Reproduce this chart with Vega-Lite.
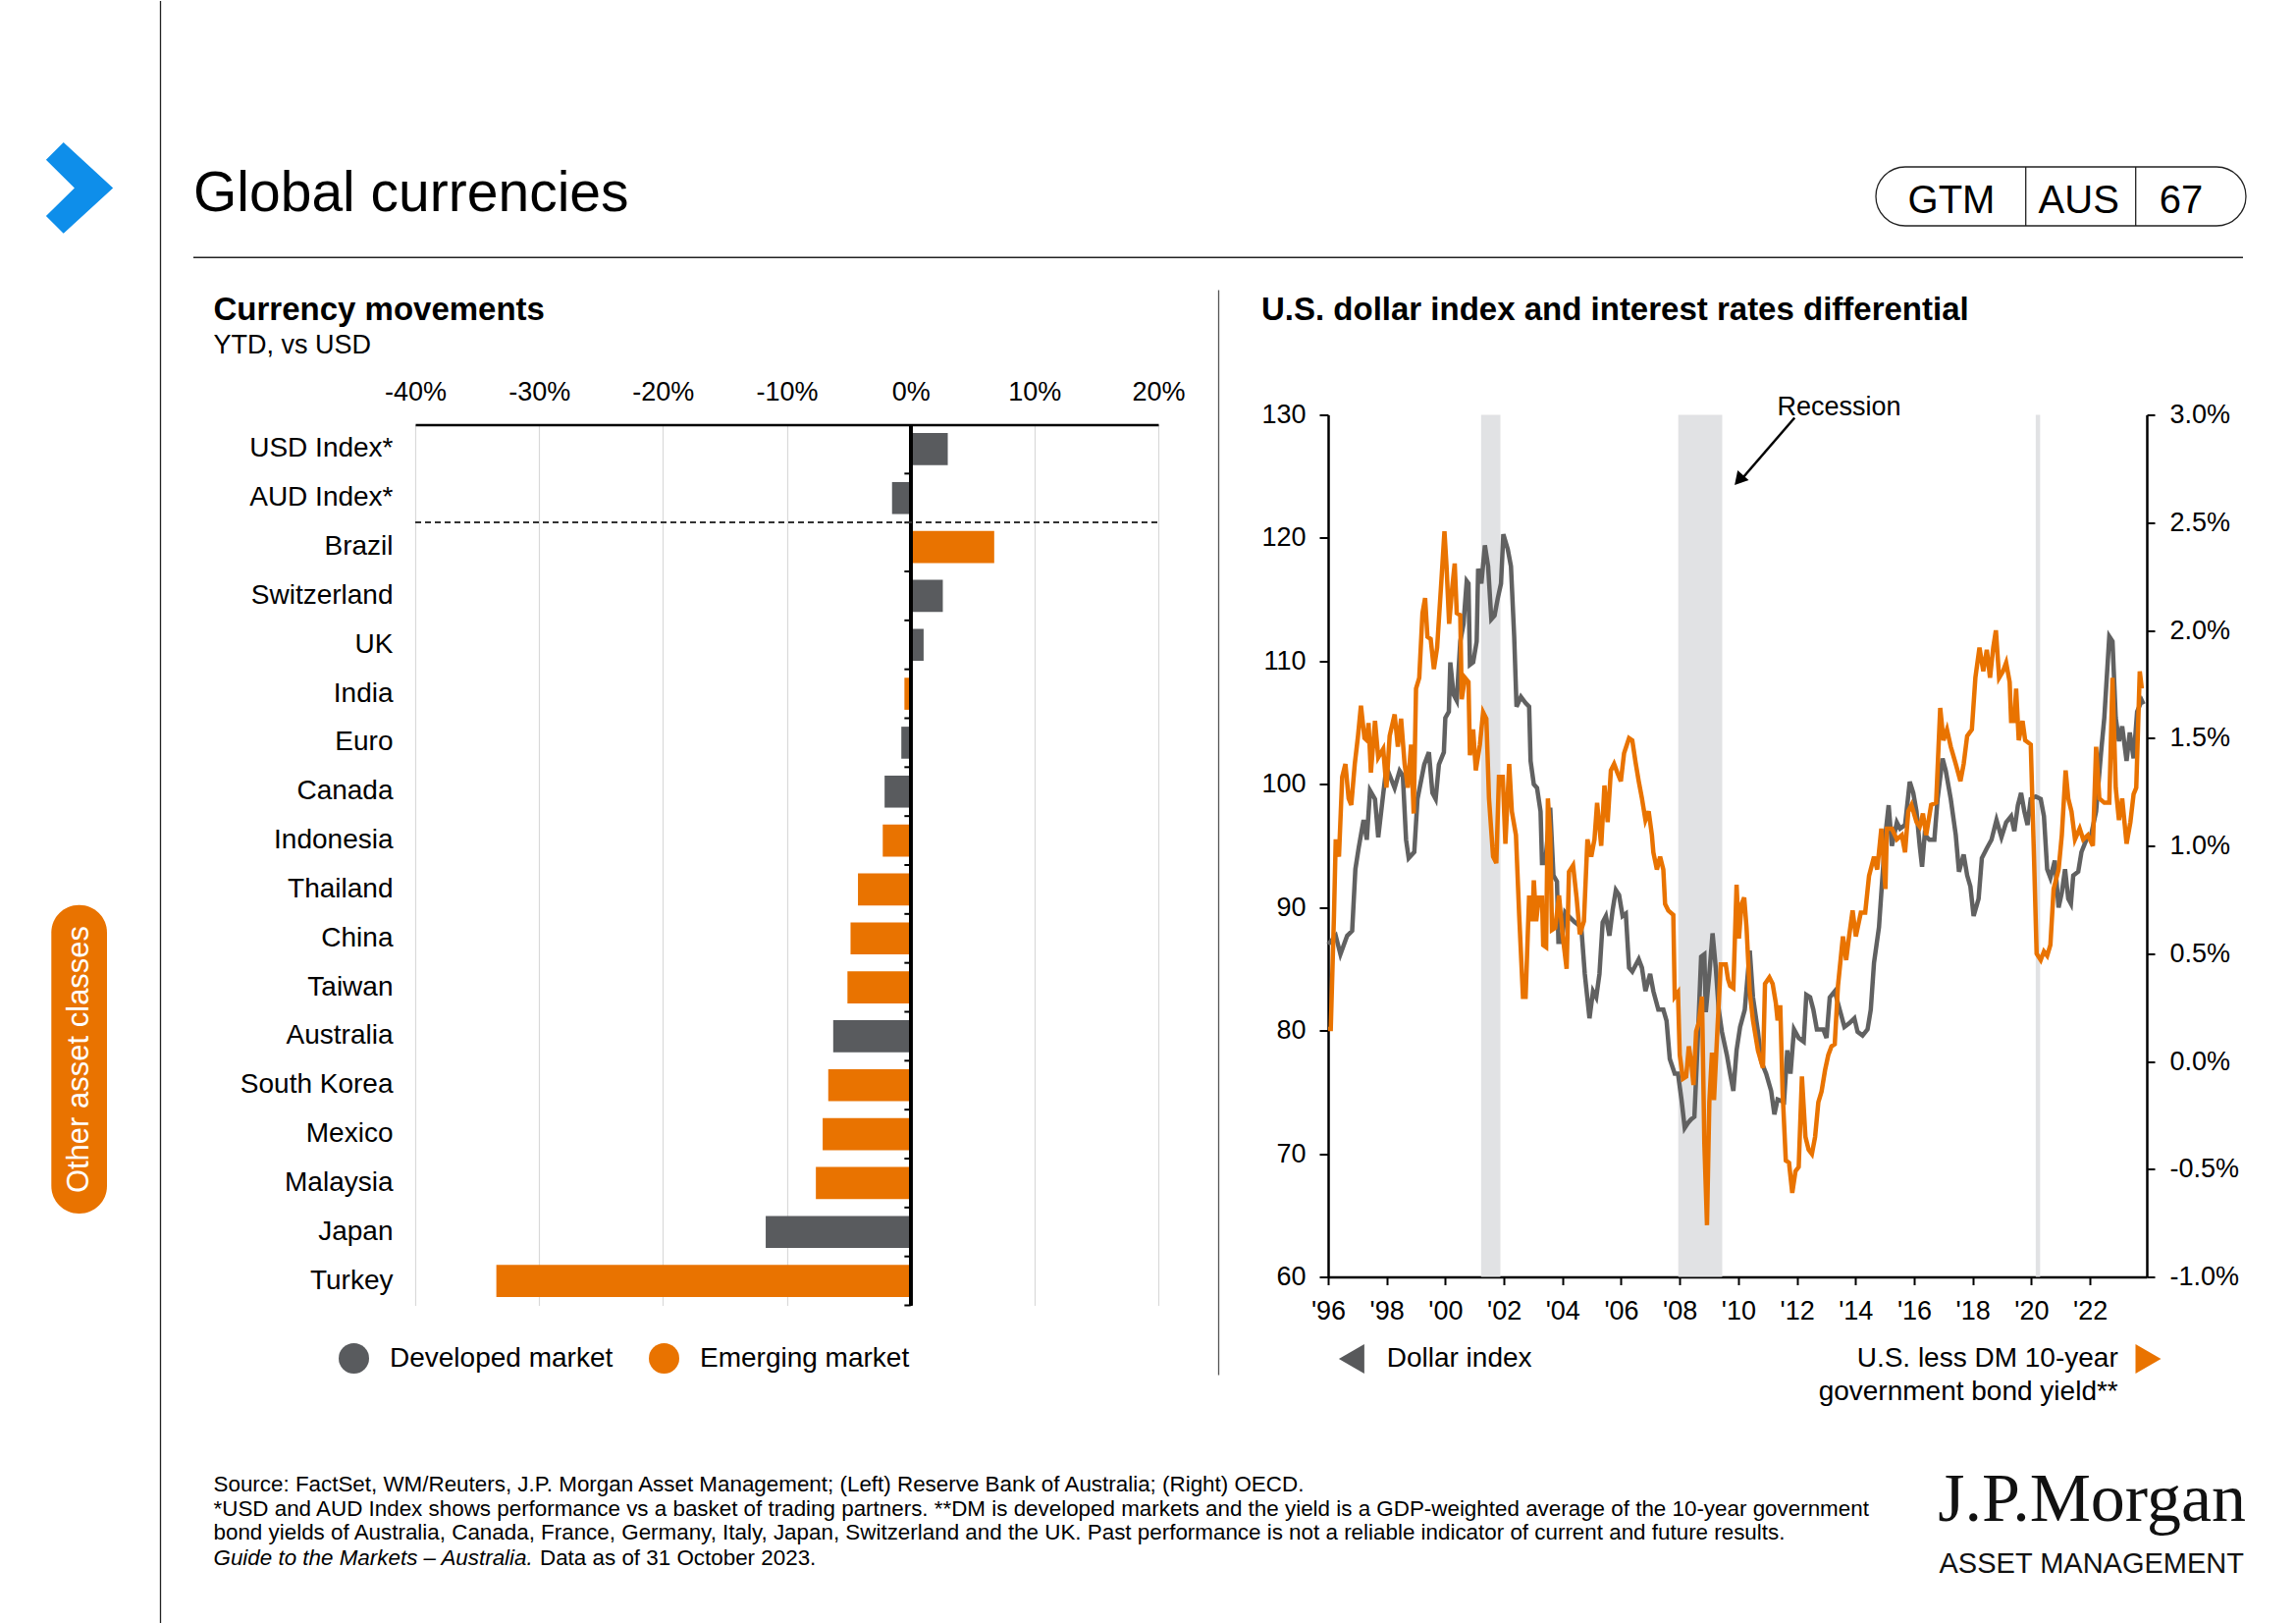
{
  "$schema": "https://vega.github.io/schema/vega-lite/v6.json",
  "background": "white",
  "padding": 0,
  "autosize": {"type": "pad"},
  "config": {
    "font": "Liberation Sans",
    "view": {"stroke": null},
    "axis": {"labelColor": "#000", "labelFont": "Liberation Sans"},
    "legend": {"labelColor": "#000", "labelFont": "Liberation Sans"},
    "title": {"color": "#000", "subtitleColor": "#000", "font": "Liberation Sans", "subtitleFont": "Liberation Sans"}
  },
  "datasets": {
    "one": [{}],
    "bars": [
      {"country": "USD Index*", "value": 3.0, "market": "Developed market"},
      {"country": "AUD Index*", "value": -1.5, "market": "Developed market"},
      {"country": "Brazil", "value": 6.75, "market": "Emerging market"},
      {"country": "Switzerland", "value": 2.6, "market": "Developed market"},
      {"country": "UK", "value": 1.05, "market": "Developed market"},
      {"country": "India", "value": -0.5, "market": "Emerging market"},
      {"country": "Euro", "value": -0.75, "market": "Developed market"},
      {"country": "Canada", "value": -2.1, "market": "Developed market"},
      {"country": "Indonesia", "value": -2.25, "market": "Emerging market"},
      {"country": "Thailand", "value": -4.25, "market": "Emerging market"},
      {"country": "China", "value": -4.85, "market": "Emerging market"},
      {"country": "Taiwan", "value": -5.1, "market": "Emerging market"},
      {"country": "Australia", "value": -6.25, "market": "Developed market"},
      {"country": "South Korea", "value": -6.65, "market": "Emerging market"},
      {"country": "Mexico", "value": -7.1, "market": "Emerging market"},
      {"country": "Malaysia", "value": -7.65, "market": "Emerging market"},
      {"country": "Japan", "value": -11.7, "market": "Developed market"},
      {"country": "Turkey", "value": -33.45, "market": "Emerging market"}
    ],
    "recessions": [
      {"start": 2001.22, "end": 2001.88},
      {"start": 2007.95, "end": 2009.45},
      {"start": 2020.15, "end": 2020.3}
    ],
    "dxy": [
      {"t": 1996.00, "v": 87.0}, {"t": 1996.26, "v": 87.7}, {"t": 1996.42, "v": 86.2}, {"t": 1996.65, "v": 87.7},
      {"t": 1996.82, "v": 88.1}, {"t": 1996.93, "v": 93.1}, {"t": 1997.04, "v": 94.8}, {"t": 1997.21, "v": 97.1},
      {"t": 1997.32, "v": 95.5}, {"t": 1997.43, "v": 99.5}, {"t": 1997.60, "v": 98.8}, {"t": 1997.71, "v": 95.7},
      {"t": 1997.88, "v": 99.2}, {"t": 1997.99, "v": 101.4}, {"t": 1998.27, "v": 99.7}, {"t": 1998.44, "v": 101.1},
      {"t": 1998.55, "v": 100.7}, {"t": 1998.66, "v": 95.5}, {"t": 1998.75, "v": 94.0}, {"t": 1998.94, "v": 94.5},
      {"t": 1999.05, "v": 98.8}, {"t": 1999.28, "v": 101.6}, {"t": 1999.44, "v": 102.6}, {"t": 1999.56, "v": 99.3},
      {"t": 1999.67, "v": 98.8}, {"t": 1999.78, "v": 101.6}, {"t": 1999.95, "v": 102.6}, {"t": 2000.00, "v": 105.4},
      {"t": 2000.12, "v": 105.9}, {"t": 2000.17, "v": 109.9}, {"t": 2000.28, "v": 107.3}, {"t": 2000.39, "v": 106.8},
      {"t": 2000.51, "v": 111.6}, {"t": 2000.62, "v": 113.0}, {"t": 2000.73, "v": 116.5}, {"t": 2000.79, "v": 116.3},
      {"t": 2000.84, "v": 109.7}, {"t": 2000.95, "v": 109.9}, {"t": 2001.07, "v": 111.6}, {"t": 2001.12, "v": 117.5},
      {"t": 2001.23, "v": 116.3}, {"t": 2001.35, "v": 119.4}, {"t": 2001.46, "v": 117.7}, {"t": 2001.57, "v": 113.4},
      {"t": 2001.68, "v": 113.7}, {"t": 2001.79, "v": 115.1}, {"t": 2001.90, "v": 116.3}, {"t": 2001.98, "v": 120.3},
      {"t": 2002.13, "v": 119.1}, {"t": 2002.24, "v": 117.7}, {"t": 2002.35, "v": 112.0}, {"t": 2002.43, "v": 106.3},
      {"t": 2002.58, "v": 107.1}, {"t": 2002.74, "v": 106.6}, {"t": 2002.86, "v": 106.3}, {"t": 2002.91, "v": 101.9},
      {"t": 2003.02, "v": 100.0}, {"t": 2003.13, "v": 99.7}, {"t": 2003.25, "v": 97.8}, {"t": 2003.30, "v": 93.6},
      {"t": 2003.41, "v": 93.6}, {"t": 2003.58, "v": 98.1}, {"t": 2003.69, "v": 92.6}, {"t": 2003.81, "v": 92.1},
      {"t": 2003.86, "v": 87.2}, {"t": 2003.97, "v": 87.2}, {"t": 2004.09, "v": 89.6}, {"t": 2004.20, "v": 89.3},
      {"t": 2004.42, "v": 88.8}, {"t": 2004.64, "v": 88.4}, {"t": 2004.76, "v": 84.6}, {"t": 2004.92, "v": 81.0},
      {"t": 2005.04, "v": 83.2}, {"t": 2005.15, "v": 82.7}, {"t": 2005.26, "v": 84.6}, {"t": 2005.37, "v": 88.8},
      {"t": 2005.48, "v": 89.3}, {"t": 2005.60, "v": 87.7}, {"t": 2005.71, "v": 89.8}, {"t": 2005.82, "v": 91.4},
      {"t": 2005.93, "v": 91.0}, {"t": 2006.05, "v": 89.3}, {"t": 2006.16, "v": 89.5}, {"t": 2006.27, "v": 85.1},
      {"t": 2006.38, "v": 84.8}, {"t": 2006.60, "v": 85.8}, {"t": 2006.71, "v": 85.1}, {"t": 2006.83, "v": 83.2},
      {"t": 2006.99, "v": 84.6}, {"t": 2007.10, "v": 83.2}, {"t": 2007.27, "v": 81.7}, {"t": 2007.44, "v": 81.7},
      {"t": 2007.55, "v": 80.8}, {"t": 2007.66, "v": 77.7}, {"t": 2007.83, "v": 76.5}, {"t": 2007.94, "v": 76.5},
      {"t": 2008.06, "v": 74.4}, {"t": 2008.17, "v": 72.1}, {"t": 2008.28, "v": 72.5}, {"t": 2008.39, "v": 72.8},
      {"t": 2008.50, "v": 73.0}, {"t": 2008.61, "v": 78.9}, {"t": 2008.73, "v": 86.0}, {"t": 2008.84, "v": 86.2},
      {"t": 2008.89, "v": 81.5}, {"t": 2009.01, "v": 84.6}, {"t": 2009.12, "v": 87.9}, {"t": 2009.23, "v": 85.1},
      {"t": 2009.33, "v": 81.7}, {"t": 2009.44, "v": 79.9}, {"t": 2009.61, "v": 78.0}, {"t": 2009.72, "v": 76.5},
      {"t": 2009.83, "v": 75.1}, {"t": 2009.94, "v": 78.4}, {"t": 2010.06, "v": 80.3}, {"t": 2010.22, "v": 81.7},
      {"t": 2010.39, "v": 86.5}, {"t": 2010.50, "v": 82.7}, {"t": 2010.67, "v": 79.9}, {"t": 2010.78, "v": 77.5},
      {"t": 2010.95, "v": 76.5}, {"t": 2011.12, "v": 75.1}, {"t": 2011.23, "v": 73.2}, {"t": 2011.34, "v": 74.4},
      {"t": 2011.56, "v": 74.2}, {"t": 2011.67, "v": 78.4}, {"t": 2011.78, "v": 76.5}, {"t": 2011.90, "v": 80.1},
      {"t": 2012.06, "v": 79.4}, {"t": 2012.23, "v": 79.1}, {"t": 2012.32, "v": 82.9}, {"t": 2012.45, "v": 82.7},
      {"t": 2012.56, "v": 81.7}, {"t": 2012.68, "v": 80.1}, {"t": 2012.90, "v": 80.1}, {"t": 2013.01, "v": 79.4},
      {"t": 2013.12, "v": 82.7}, {"t": 2013.29, "v": 83.2}, {"t": 2013.46, "v": 81.7}, {"t": 2013.62, "v": 80.3},
      {"t": 2013.79, "v": 80.6}, {"t": 2013.96, "v": 81.0}, {"t": 2014.07, "v": 79.9}, {"t": 2014.24, "v": 79.6},
      {"t": 2014.41, "v": 80.1}, {"t": 2014.52, "v": 81.7}, {"t": 2014.63, "v": 85.5}, {"t": 2014.80, "v": 88.4},
      {"t": 2014.91, "v": 92.2}, {"t": 2015.02, "v": 95.9}, {"t": 2015.13, "v": 98.3}, {"t": 2015.24, "v": 95.0},
      {"t": 2015.41, "v": 96.9}, {"t": 2015.52, "v": 96.4}, {"t": 2015.69, "v": 96.7}, {"t": 2015.85, "v": 100.2},
      {"t": 2015.97, "v": 99.3}, {"t": 2016.08, "v": 97.8}, {"t": 2016.19, "v": 95.0}, {"t": 2016.27, "v": 93.3},
      {"t": 2016.36, "v": 95.9}, {"t": 2016.52, "v": 95.5}, {"t": 2016.69, "v": 95.5}, {"t": 2016.80, "v": 98.8},
      {"t": 2016.97, "v": 102.1}, {"t": 2017.08, "v": 101.1}, {"t": 2017.25, "v": 98.8}, {"t": 2017.42, "v": 95.9},
      {"t": 2017.53, "v": 92.9}, {"t": 2017.69, "v": 94.3}, {"t": 2017.81, "v": 92.6}, {"t": 2017.92, "v": 91.7},
      {"t": 2018.03, "v": 89.3}, {"t": 2018.20, "v": 90.7}, {"t": 2018.31, "v": 94.0}, {"t": 2018.48, "v": 94.8},
      {"t": 2018.64, "v": 95.5}, {"t": 2018.81, "v": 97.1}, {"t": 2018.98, "v": 95.7}, {"t": 2019.14, "v": 96.9},
      {"t": 2019.31, "v": 97.4}, {"t": 2019.42, "v": 96.2}, {"t": 2019.54, "v": 98.3}, {"t": 2019.65, "v": 99.3},
      {"t": 2019.76, "v": 97.8}, {"t": 2019.87, "v": 96.7}, {"t": 2019.98, "v": 98.8}, {"t": 2020.15, "v": 99.0},
      {"t": 2020.32, "v": 98.8}, {"t": 2020.43, "v": 97.4}, {"t": 2020.54, "v": 93.1}, {"t": 2020.65, "v": 92.4},
      {"t": 2020.80, "v": 93.8}, {"t": 2020.93, "v": 90.0}, {"t": 2021.04, "v": 91.2}, {"t": 2021.15, "v": 93.1},
      {"t": 2021.26, "v": 90.7}, {"t": 2021.35, "v": 90.3}, {"t": 2021.43, "v": 92.6}, {"t": 2021.60, "v": 92.9},
      {"t": 2021.71, "v": 94.5}, {"t": 2021.88, "v": 95.5}, {"t": 2022.04, "v": 95.9}, {"t": 2022.21, "v": 97.8},
      {"t": 2022.38, "v": 102.6}, {"t": 2022.49, "v": 105.4}, {"t": 2022.66, "v": 112.0}, {"t": 2022.77, "v": 111.6},
      {"t": 2022.88, "v": 105.4}, {"t": 2022.99, "v": 103.5}, {"t": 2023.10, "v": 104.7}, {"t": 2023.25, "v": 101.9},
      {"t": 2023.36, "v": 104.2}, {"t": 2023.49, "v": 102.1}, {"t": 2023.61, "v": 105.9}, {"t": 2023.77, "v": 106.8},
      {"t": 2023.83, "v": 106.5}
    ],
    "spread": [
      {"t": 1996.00, "s": 0.15}, {"t": 1996.09, "s": 0.15}, {"t": 1996.20, "s": 0.68}, {"t": 1996.26, "s": 1.03},
      {"t": 1996.37, "s": 0.95}, {"t": 1996.48, "s": 1.32}, {"t": 1996.59, "s": 1.38}, {"t": 1996.70, "s": 1.22},
      {"t": 1996.79, "s": 1.19}, {"t": 1996.91, "s": 1.38}, {"t": 1997.02, "s": 1.51}, {"t": 1997.12, "s": 1.65},
      {"t": 1997.24, "s": 1.50}, {"t": 1997.32, "s": 1.49}, {"t": 1997.38, "s": 1.57}, {"t": 1997.46, "s": 1.34},
      {"t": 1997.60, "s": 1.58}, {"t": 1997.71, "s": 1.41}, {"t": 1997.88, "s": 1.45}, {"t": 1997.99, "s": 1.27},
      {"t": 1998.10, "s": 1.51}, {"t": 1998.27, "s": 1.61}, {"t": 1998.38, "s": 1.46}, {"t": 1998.49, "s": 1.59},
      {"t": 1998.61, "s": 1.38}, {"t": 1998.72, "s": 1.27}, {"t": 1998.83, "s": 1.47}, {"t": 1998.92, "s": 1.15},
      {"t": 1999.00, "s": 1.73}, {"t": 1999.11, "s": 1.78}, {"t": 1999.22, "s": 2.08}, {"t": 1999.31, "s": 2.15},
      {"t": 1999.39, "s": 1.97}, {"t": 1999.50, "s": 1.96}, {"t": 1999.61, "s": 1.82}, {"t": 1999.72, "s": 1.92},
      {"t": 1999.87, "s": 2.24}, {"t": 1999.97, "s": 2.46}, {"t": 2000.04, "s": 2.30}, {"t": 2000.13, "s": 2.03},
      {"t": 2000.23, "s": 2.19}, {"t": 2000.32, "s": 2.31}, {"t": 2000.39, "s": 2.08}, {"t": 2000.51, "s": 2.07},
      {"t": 2000.56, "s": 1.68}, {"t": 2000.67, "s": 1.78}, {"t": 2000.79, "s": 1.76}, {"t": 2000.84, "s": 1.42},
      {"t": 2000.95, "s": 1.54}, {"t": 2001.04, "s": 1.35}, {"t": 2001.18, "s": 1.47}, {"t": 2001.29, "s": 1.62},
      {"t": 2001.40, "s": 1.59}, {"t": 2001.49, "s": 1.22}, {"t": 2001.63, "s": 0.95}, {"t": 2001.74, "s": 0.92},
      {"t": 2001.83, "s": 1.32}, {"t": 2001.96, "s": 1.32}, {"t": 2002.05, "s": 1.01}, {"t": 2002.18, "s": 1.38},
      {"t": 2002.27, "s": 1.16}, {"t": 2002.41, "s": 1.05}, {"t": 2002.52, "s": 0.68}, {"t": 2002.65, "s": 0.30},
      {"t": 2002.74, "s": 0.30}, {"t": 2002.86, "s": 0.77}, {"t": 2002.97, "s": 0.65}, {"t": 2003.02, "s": 0.84},
      {"t": 2003.10, "s": 0.65}, {"t": 2003.19, "s": 0.76}, {"t": 2003.30, "s": 0.76}, {"t": 2003.34, "s": 0.54},
      {"t": 2003.44, "s": 0.53}, {"t": 2003.50, "s": 1.22}, {"t": 2003.58, "s": 1.05}, {"t": 2003.64, "s": 0.61},
      {"t": 2003.75, "s": 0.62}, {"t": 2003.88, "s": 0.77}, {"t": 2004.00, "s": 0.59}, {"t": 2004.14, "s": 0.43},
      {"t": 2004.22, "s": 0.88}, {"t": 2004.36, "s": 0.91}, {"t": 2004.48, "s": 0.76}, {"t": 2004.59, "s": 0.59},
      {"t": 2004.73, "s": 0.65}, {"t": 2004.85, "s": 1.03}, {"t": 2004.98, "s": 0.95}, {"t": 2005.09, "s": 1.03},
      {"t": 2005.18, "s": 1.20}, {"t": 2005.32, "s": 1.00}, {"t": 2005.43, "s": 1.28}, {"t": 2005.54, "s": 1.11},
      {"t": 2005.65, "s": 1.35}, {"t": 2005.76, "s": 1.38}, {"t": 2005.87, "s": 1.34}, {"t": 2005.99, "s": 1.30},
      {"t": 2006.10, "s": 1.43}, {"t": 2006.27, "s": 1.50}, {"t": 2006.38, "s": 1.49}, {"t": 2006.49, "s": 1.39},
      {"t": 2006.60, "s": 1.30}, {"t": 2006.71, "s": 1.22}, {"t": 2006.83, "s": 1.12}, {"t": 2006.94, "s": 1.16},
      {"t": 2007.05, "s": 1.05}, {"t": 2007.10, "s": 0.97}, {"t": 2007.22, "s": 0.89}, {"t": 2007.33, "s": 0.95},
      {"t": 2007.44, "s": 0.89}, {"t": 2007.50, "s": 0.73}, {"t": 2007.61, "s": 0.70}, {"t": 2007.78, "s": 0.68},
      {"t": 2007.83, "s": 0.30}, {"t": 2007.94, "s": 0.32}, {"t": 2008.00, "s": 0.03}, {"t": 2008.11, "s": -0.08},
      {"t": 2008.22, "s": -0.07}, {"t": 2008.31, "s": 0.07}, {"t": 2008.39, "s": 0.00}, {"t": 2008.47, "s": -0.11},
      {"t": 2008.56, "s": 0.14}, {"t": 2008.65, "s": 0.18}, {"t": 2008.76, "s": 0.30}, {"t": 2008.84, "s": -0.38},
      {"t": 2008.93, "s": -0.76}, {"t": 2009.01, "s": -0.19}, {"t": 2009.10, "s": 0.04}, {"t": 2009.17, "s": -0.18},
      {"t": 2009.29, "s": 0.16}, {"t": 2009.40, "s": 0.45}, {"t": 2009.57, "s": 0.45}, {"t": 2009.65, "s": 0.38},
      {"t": 2009.72, "s": 0.35}, {"t": 2009.83, "s": 0.34}, {"t": 2009.94, "s": 0.82}, {"t": 2010.02, "s": 0.57},
      {"t": 2010.11, "s": 0.73}, {"t": 2010.20, "s": 0.76}, {"t": 2010.28, "s": 0.62}, {"t": 2010.39, "s": 0.32},
      {"t": 2010.50, "s": 0.19}, {"t": 2010.67, "s": 0.05}, {"t": 2010.84, "s": -0.03}, {"t": 2010.91, "s": 0.36},
      {"t": 2011.06, "s": 0.39}, {"t": 2011.17, "s": 0.36}, {"t": 2011.28, "s": 0.27}, {"t": 2011.34, "s": 0.19},
      {"t": 2011.43, "s": 0.26}, {"t": 2011.51, "s": -0.14}, {"t": 2011.62, "s": -0.46}, {"t": 2011.73, "s": -0.47},
      {"t": 2011.84, "s": -0.61}, {"t": 2011.95, "s": -0.51}, {"t": 2012.06, "s": -0.49}, {"t": 2012.17, "s": -0.07},
      {"t": 2012.29, "s": -0.35}, {"t": 2012.40, "s": -0.41}, {"t": 2012.51, "s": -0.43}, {"t": 2012.62, "s": -0.35},
      {"t": 2012.73, "s": -0.19}, {"t": 2012.84, "s": -0.14}, {"t": 2012.96, "s": -0.04}, {"t": 2013.07, "s": 0.03},
      {"t": 2013.18, "s": 0.07}, {"t": 2013.29, "s": 0.08}, {"t": 2013.40, "s": 0.35}, {"t": 2013.57, "s": 0.58},
      {"t": 2013.68, "s": 0.47}, {"t": 2013.77, "s": 0.57}, {"t": 2013.90, "s": 0.70}, {"t": 2014.01, "s": 0.58},
      {"t": 2014.18, "s": 0.69}, {"t": 2014.33, "s": 0.69}, {"t": 2014.46, "s": 0.86}, {"t": 2014.63, "s": 0.95},
      {"t": 2014.74, "s": 0.89}, {"t": 2014.88, "s": 1.08}, {"t": 2015.02, "s": 0.80}, {"t": 2015.07, "s": 1.08},
      {"t": 2015.24, "s": 1.08}, {"t": 2015.41, "s": 1.03}, {"t": 2015.58, "s": 1.05}, {"t": 2015.69, "s": 0.97},
      {"t": 2015.80, "s": 1.16}, {"t": 2015.91, "s": 1.19}, {"t": 2016.08, "s": 1.11}, {"t": 2016.19, "s": 1.09},
      {"t": 2016.30, "s": 1.15}, {"t": 2016.41, "s": 1.05}, {"t": 2016.58, "s": 1.19}, {"t": 2016.75, "s": 1.20},
      {"t": 2016.89, "s": 1.64}, {"t": 2017.00, "s": 1.49}, {"t": 2017.12, "s": 1.54}, {"t": 2017.25, "s": 1.46},
      {"t": 2017.42, "s": 1.38}, {"t": 2017.58, "s": 1.30}, {"t": 2017.69, "s": 1.38}, {"t": 2017.81, "s": 1.51},
      {"t": 2017.97, "s": 1.54}, {"t": 2018.09, "s": 1.78}, {"t": 2018.23, "s": 1.92}, {"t": 2018.36, "s": 1.81},
      {"t": 2018.48, "s": 1.91}, {"t": 2018.59, "s": 1.78}, {"t": 2018.70, "s": 1.92}, {"t": 2018.79, "s": 2.00},
      {"t": 2018.90, "s": 1.78}, {"t": 2019.03, "s": 1.81}, {"t": 2019.14, "s": 1.85}, {"t": 2019.26, "s": 1.76},
      {"t": 2019.31, "s": 1.58}, {"t": 2019.42, "s": 1.58}, {"t": 2019.48, "s": 1.73}, {"t": 2019.57, "s": 1.49},
      {"t": 2019.70, "s": 1.58}, {"t": 2019.79, "s": 1.49}, {"t": 2019.98, "s": 1.47}, {"t": 2020.09, "s": 0.95},
      {"t": 2020.18, "s": 0.50}, {"t": 2020.32, "s": 0.47}, {"t": 2020.43, "s": 0.51}, {"t": 2020.54, "s": 0.49},
      {"t": 2020.65, "s": 0.54}, {"t": 2020.76, "s": 0.80}, {"t": 2020.93, "s": 0.89}, {"t": 2021.04, "s": 1.05},
      {"t": 2021.17, "s": 1.35}, {"t": 2021.26, "s": 1.22}, {"t": 2021.37, "s": 1.16}, {"t": 2021.49, "s": 1.03},
      {"t": 2021.65, "s": 1.08}, {"t": 2021.77, "s": 1.03}, {"t": 2021.93, "s": 1.05}, {"t": 2022.10, "s": 1.00},
      {"t": 2022.21, "s": 1.46}, {"t": 2022.32, "s": 1.22}, {"t": 2022.49, "s": 1.20}, {"t": 2022.66, "s": 1.20},
      {"t": 2022.77, "s": 1.78}, {"t": 2022.88, "s": 1.27}, {"t": 2022.99, "s": 1.12}, {"t": 2023.10, "s": 1.22},
      {"t": 2023.25, "s": 1.01}, {"t": 2023.38, "s": 1.11}, {"t": 2023.49, "s": 1.24}, {"t": 2023.58, "s": 1.27},
      {"t": 2023.70, "s": 1.81}, {"t": 2023.77, "s": 1.73}
    ]
  },
  "spacing": 0,
  "resolve": {"scale": {"color": "independent"}, "legend": {"color": "independent"}},
  "hconcat": [
    {
      "width": 196,
      "height": 1653,
      "data": {"name": "one"},
      "layer": [
        {
          "mark": {"type": "rule", "color": "#222222", "strokeWidth": 1.3},
          "encoding": {
            "x": {"datum": 163.5, "type": "quantitative", "scale": {"domain": [0, 196], "nice": false, "zero": false}, "axis": null},
            "y": {"datum": 0, "type": "quantitative", "scale": {"domain": [0, 1653], "reverse": true, "nice": false, "zero": false}, "axis": null},
            "y2": {"datum": 1653}
          }
        },
        {
          "mark": {"type": "point", "shape": "M-0.352,-1L0.738,0L-0.352,1L-0.737,0.618L-0.11,0L-0.737,-0.618Z", "filled": true, "color": "#0E8EEA", "size": 8575, "opacity": 1, "strokeWidth": 0},
          "encoding": {
            "x": {"datum": 81, "type": "quantitative"},
            "y": {"datum": 190.4, "type": "quantitative"}
          }
        },
        {
          "mark": {"type": "rect", "color": "#E97300", "cornerRadius": 28},
          "encoding": {
            "x": {"datum": 52.3, "type": "quantitative"},
            "x2": {"datum": 109},
            "y": {"datum": 920.7, "type": "quantitative"},
            "y2": {"datum": 1235}
          }
        },
        {
          "mark": {"type": "text", "text": "Other asset classes", "angle": 270, "fontSize": 31, "color": "white", "align": "center", "baseline": "middle"},
          "encoding": {
            "x": {"datum": 81, "type": "quantitative"},
            "y": {"datum": 1078, "type": "quantitative"}
          }
        }
      ]
    },
    {
      "spacing": 29.5,
      "resolve": {"scale": {"color": "independent"}, "legend": {"color": "independent"}},
      "vconcat": [
        {
          "width": 1874,
          "height": 262,
          "data": {"name": "one"},
          "layer": [
            {
              "mark": {"type": "text", "text": "Global currencies", "fontSize": 57, "align": "left", "baseline": "alphabetic", "color": "#000"},
              "encoding": {
                "x": {"datum": 196, "type": "quantitative", "scale": {"domain": [422, 2296], "nice": false, "zero": false}, "axis": null},
                "y": {"datum": 214, "type": "quantitative", "scale": {"domain": [0, 262], "reverse": true, "nice": false, "zero": false}, "axis": null}
              }
            },
            {
              "mark": {"type": "rect", "fill": "white", "stroke": "#222222", "strokeWidth": 1.3, "cornerRadius": 30},
              "encoding": {
                "x": {"datum": 1910, "type": "quantitative"},
                "x2": {"datum": 2287},
                "y": {"datum": 169, "type": "quantitative"},
                "y2": {"datum": 229}
              }
            },
            {
              "mark": {"type": "rule", "color": "#222222", "strokeWidth": 1.3},
              "encoding": {
                "x": {"datum": 2062.7, "type": "quantitative"},
                "y": {"datum": 169, "type": "quantitative"},
                "y2": {"datum": 229}
              }
            },
            {
              "mark": {"type": "rule", "color": "#222222", "strokeWidth": 1.3},
              "encoding": {
                "x": {"datum": 2174.7, "type": "quantitative"},
                "y": {"datum": 169, "type": "quantitative"},
                "y2": {"datum": 229}
              }
            },
            {
              "mark": {"type": "text", "text": "GTM", "fontSize": 40, "align": "center", "baseline": "alphabetic", "color": "#000"},
              "encoding": {"x": {"datum": 1987, "type": "quantitative"}, "y": {"datum": 215.7, "type": "quantitative"}}
            },
            {
              "mark": {"type": "text", "text": "AUS", "fontSize": 40, "align": "center", "baseline": "alphabetic", "color": "#000"},
              "encoding": {"x": {"datum": 2116.7, "type": "quantitative"}, "y": {"datum": 215.7, "type": "quantitative"}}
            },
            {
              "mark": {"type": "text", "text": "67", "fontSize": 40, "align": "center", "baseline": "alphabetic", "color": "#000"},
              "encoding": {"x": {"datum": 2221, "type": "quantitative"}, "y": {"datum": 215.7, "type": "quantitative"}}
            },
            {
              "mark": {"type": "rule", "color": "#222222", "strokeWidth": 1.5},
              "encoding": {
                "x": {"datum": 196, "type": "quantitative"},
                "x2": {"datum": 2284},
                "y": {"datum": 261.2, "type": "quantitative"}
              }
            }
          ]
        },
        {
          "spacing": 31,
          "resolve": {"scale": {"color": "independent"}, "legend": {"color": "independent"}},
          "vconcat": [
            {
              "spacing": 32.5,
              "resolve": {"scale": {"color": "independent"}, "legend": {"color": "independent"}},
              "hconcat": [
                {
                  "spacing": 0,
                  "resolve": {"scale": {"color": "independent"}, "legend": {"color": "independent"}},
                  "vconcat": [
                    {
                      "width": 1,
                      "height": 1,
                      "data": {"name": "one"},
                      "mark": {"type": "point", "opacity": 0},
                      "encoding": {}
                    },
                    {
                      "width": 757,
                      "height": 897,
                      "title": {
                        "text": "Currency movements",
                        "subtitle": "YTD, vs USD",
                        "anchor": "start",
                        "frame": "group",
                        "dx": -205.5,
                        "fontSize": 33,
                        "fontWeight": "bold",
                        "subtitleFontSize": 27,
                        "subtitlePadding": 6,
                        "offset": 20.5
                      },
                      "data": {"name": "bars"},
                      "layer": [
                        {
                          "mark": {"type": "rule", "opacity": 0, "clip": false},
                          "encoding": {"x": {"datum": -57.9, "type": "quantitative"}}
                        },
                        {
                          "mark": {"type": "bar"},
                          "encoding": {
                            "x": {
                              "field": "value",
                              "type": "quantitative",
                              "scale": {"domain": [-40, 20], "nice": false, "zero": false},
                              "axis": {
                                "orient": "top",
                                "values": [-40, -30, -20, -10, 0, 10, 20],
                                "labelExpr": "datum.value + '%'",
                                "grid": true,
                                "gridColor": "#D9D9D9",
                                "gridWidth": 1.2,
                                "domain": true,
                                "domainColor": "#000",
                                "domainWidth": 2.5,
                                "ticks": false,
                                "tickSize": 0,
                                "labelPadding": 19,
                                "labelFontSize": 27,
                                "labelFlush": false,
                                "labelOverlap": false,
                                "title": null
                              }
                            },
                            "y": {
                              "field": "country",
                              "type": "nominal",
                              "sort": null,
                              "scale": {"paddingInner": 0.346, "paddingOuter": 0.173},
                              "axis": {
                                "title": null,
                                "domain": false,
                                "ticks": false,
                                "tickSize": 0,
                                "labelPadding": 23,
                                "labelFontSize": 28
                              }
                            },
                            "color": {
                              "field": "market",
                              "type": "nominal",
                              "scale": {"domain": ["Developed market", "Emerging market"], "range": ["#595B5E", "#E97300"]},
                              "legend": {
                                "title": null,
                                "orient": "none",
                                "legendX": -78,
                                "legendY": 935.5,
                                "direction": "horizontal",
                                "symbolType": "circle",
                                "symbolSize": 961,
                                "symbolStrokeWidth": 0,
                                "labelFontSize": 28,
                                "labelLimit": 0,
                                "labelOffset": 21,
                                "columnPadding": 36,
                                "padding": 0
                              }
                            }
                          }
                        },
                        {
                          "mark": {"type": "rule", "color": "#000", "strokeWidth": 3},
                          "encoding": {"x": {"datum": 0, "type": "quantitative"}}
                        },
                        {
                          "mark": {"type": "rule", "color": "#000", "strokeWidth": 2},
                          "encoding": {
                            "x": {"datum": -0.5, "type": "quantitative"},
                            "x2": {"datum": 0},
                            "y": {"field": "country", "type": "nominal", "sort": null, "bandPosition": 1.2645}
                          }
                        },
                        {
                          "mark": {"type": "rule", "color": "#333333", "strokeWidth": 1.6, "strokeDash": [6, 4]},
                          "encoding": {
                            "x": {"datum": -40, "type": "quantitative"},
                            "x2": {"datum": 20},
                            "y": {"datum": "Brazil", "type": "nominal", "bandPosition": -0.2645}
                          }
                        }
                      ]
                    }
                  ]
                },
                {
                  "width": 10,
                  "height": 1105,
                  "data": {"name": "one"},
                  "mark": {"type": "rule", "color": "#555555", "strokeWidth": 1.3},
                  "encoding": {"x": {"value": 0}}
                },
                {
                  "spacing": 0,
                  "vconcat": [
                    {
                      "width": 1,
                      "height": 1,
                      "data": {"name": "one"},
                      "mark": {"type": "point", "opacity": 0},
                      "encoding": {}
                    },
                    {
                      "width": 834,
                      "height": 878,
                      "title": {
                        "text": "U.S. dollar index and interest rates differential",
                        "anchor": "start",
                        "frame": "group",
                        "dx": -68,
                        "fontSize": 33,
                        "fontWeight": "bold",
                        "offset": 68
                      },
                      "resolve": {"scale": {"y": "independent"}},
                      "layer": [
                        {
                          "layer": [
                            {
                              "data": {"name": "recessions"},
                              "mark": {"type": "rect", "color": "#E1E2E4"},
                              "encoding": {
                                "x": {
                                  "field": "start",
                                  "type": "quantitative",
                                  "scale": {"domain": [1996, 2023.94], "nice": false, "zero": false},
                                  "axis": {
                                    "values": [1996, 1998, 2000, 2002, 2004, 2006, 2008, 2010, 2012, 2014, 2016, 2018, 2020, 2022],
                                    "labelExpr": "\"'\" + slice(format(datum.value, 'd'), 2)",
                                    "tickSize": 8,
                                    "tickWidth": 2,
                                    "tickColor": "#000",
                                    "labelPadding": 14,
                                    "labelFontSize": 27,
                                    "domainColor": "#000",
                                    "domainWidth": 2.5,
                                    "grid": false,
                                    "title": null,
                                    "labelFlush": false,
                                    "labelOverlap": false
                                  }
                                },
                                "x2": {"field": "end"}
                              }
                            },
                            {
                              "data": {"name": "dxy"},
                              "mark": {"type": "line", "color": "#616161", "strokeWidth": 4.5},
                              "encoding": {
                                "x": {"field": "t", "type": "quantitative"},
                                "y": {
                                  "field": "v",
                                  "type": "quantitative",
                                  "scale": {"domain": [60, 130], "nice": false, "zero": false},
                                  "axis": {
                                    "values": [60, 70, 80, 90, 100, 110, 120, 130],
                                    "tickSize": 9,
                                    "tickWidth": 2,
                                    "tickColor": "#000",
                                    "labelPadding": 14,
                                    "labelFontSize": 27,
                                    "domainColor": "#000",
                                    "domainWidth": 2.5,
                                    "grid": false,
                                    "title": null
                                  }
                                }
                              }
                            },
                            {
                              "data": {"name": "one"},
                              "mark": {"type": "text", "text": "Recession", "fontSize": 27, "align": "center", "baseline": "alphabetic", "color": "#000", "clip": false},
                              "encoding": {"x": {"datum": 2013.44, "type": "quantitative"}, "y": {"datum": 130.0, "type": "quantitative"}}
                            },
                            {
                              "data": {"name": "one"},
                              "mark": {"type": "rule", "color": "#000", "strokeWidth": 2.5, "clip": false},
                              "encoding": {
                                "x": {"datum": 2011.92, "type": "quantitative"},
                                "x2": {"datum": 2010.12},
                                "y": {"datum": 129.76, "type": "quantitative"},
                                "y2": {"datum": 124.8}
                              }
                            },
                            {
                              "data": {"name": "one"},
                              "mark": {"type": "point", "shape": "triangle-up", "angle": 221.6, "size": 230, "filled": true, "color": "#000", "opacity": 1, "clip": false},
                              "encoding": {"x": {"datum": 2010.02, "type": "quantitative"}, "y": {"datum": 124.7, "type": "quantitative"}}
                            },
                            {
                              "data": {"name": "one"},
                              "mark": {"type": "point", "shape": "triangle-left", "size": 900, "filled": true, "color": "#58595B", "opacity": 1, "clip": false},
                              "encoding": {"x": {"datum": 1996.8, "type": "quantitative"}, "y": {"datum": 53.34, "type": "quantitative"}}
                            },
                            {
                              "data": {"name": "one"},
                              "mark": {"type": "text", "text": "Dollar index", "fontSize": 28, "align": "left", "baseline": "middle", "color": "#000", "clip": false},
                              "encoding": {"x": {"datum": 1998.0, "type": "quantitative"}, "y": {"datum": 53.34, "type": "quantitative"}}
                            },
                            {
                              "data": {"name": "one"},
                              "mark": {"type": "text", "text": "U.S. less DM 10-year", "fontSize": 28, "align": "right", "baseline": "middle", "color": "#000", "clip": false},
                              "encoding": {"x": {"datum": 2022.96, "type": "quantitative"}, "y": {"datum": 53.34, "type": "quantitative"}}
                            },
                            {
                              "data": {"name": "one"},
                              "mark": {"type": "text", "text": "government bond yield**", "fontSize": 28, "align": "right", "baseline": "middle", "color": "#000", "clip": false},
                              "encoding": {"x": {"datum": 2022.96, "type": "quantitative"}, "y": {"datum": 50.6, "type": "quantitative"}}
                            },
                            {
                              "data": {"name": "one"},
                              "mark": {"type": "point", "shape": "triangle-right", "size": 900, "filled": true, "color": "#E97300", "opacity": 1, "clip": false},
                              "encoding": {"x": {"datum": 2023.99, "type": "quantitative"}, "y": {"datum": 53.34, "type": "quantitative"}}
                            }
                          ]
                        },
                        {
                          "data": {"name": "spread"},
                          "mark": {"type": "line", "color": "#E97300", "strokeWidth": 4.5},
                          "encoding": {
                            "x": {"field": "t", "type": "quantitative"},
                            "y": {
                              "field": "s",
                              "type": "quantitative",
                              "scale": {"domain": [-1, 3], "nice": false, "zero": false},
                              "axis": {
                                "orient": "right",
                                "values": [-1, -0.5, 0, 0.5, 1, 1.5, 2, 2.5, 3],
                                "labelExpr": "(datum.value < 0 ? '-' : '') + format(abs(datum.value), '.1f') + '%'",
                                "tickSize": 8,
                                "tickWidth": 2,
                                "tickColor": "#000",
                                "labelPadding": 15,
                                "labelFontSize": 27,
                                "domainColor": "#000",
                                "domainWidth": 2.5,
                                "grid": false,
                                "title": null
                              }
                            }
                          }
                        }
                      ]
                    }
                  ]
                }
              ]
            },
            {
              "width": 1874,
              "height": 150,
              "data": {"name": "one"},
              "layer": [
                {
                  "mark": {"type": "text", "text": "Source: FactSet, WM/Reuters, J.P. Morgan Asset Management; (Left) Reserve Bank of Australia; (Right) OECD.", "fontSize": 22.4, "align": "left", "baseline": "middle", "color": "#000"},
                  "encoding": {
                    "x": {"datum": 216.5, "type": "quantitative", "scale": {"domain": [422, 2296], "nice": false, "zero": false}, "axis": null},
                    "y": {"datum": 48, "type": "quantitative", "scale": {"domain": [0, 150], "reverse": true, "nice": false, "zero": false}, "axis": null}
                  }
                },
                {
                  "mark": {"type": "text", "text": "*USD and AUD Index shows performance vs a basket of trading partners. **DM is developed markets and the yield is a GDP-weighted average of the 10-year government", "fontSize": 22.4, "align": "left", "baseline": "middle", "color": "#000"},
                  "encoding": {"x": {"datum": 216.5, "type": "quantitative"}, "y": {"datum": 73.5, "type": "quantitative"}}
                },
                {
                  "mark": {"type": "text", "text": "bond yields of Australia, Canada, France, Germany, Italy, Japan, Switzerland and the UK. Past performance is not a reliable indicator of current and future results.", "fontSize": 22.4, "align": "left", "baseline": "middle", "color": "#000"},
                  "encoding": {"x": {"datum": 216.5, "type": "quantitative"}, "y": {"datum": 97.5, "type": "quantitative"}}
                },
                {
                  "mark": {"type": "text", "text": "Guide to the Markets – Australia.", "fontSize": 22.4, "fontStyle": "italic", "align": "left", "baseline": "middle", "color": "#000"},
                  "encoding": {"x": {"datum": 216.5, "type": "quantitative"}, "y": {"datum": 123, "type": "quantitative"}}
                },
                {
                  "mark": {"type": "text", "text": "Data as of 31 October 2023.", "fontSize": 22.4, "align": "left", "baseline": "middle", "color": "#000"},
                  "encoding": {"x": {"datum": 549, "type": "quantitative"}, "y": {"datum": 123, "type": "quantitative"}}
                },
                {
                  "mark": {"type": "text", "text": "J.P.Morgan", "font": "Liberation Serif", "fontSize": 70, "align": "right", "baseline": "alphabetic", "color": "#111"},
                  "encoding": {"x": {"datum": 2287, "type": "quantitative"}, "y": {"datum": 85.5, "type": "quantitative"}}
                },
                {
                  "mark": {"type": "text", "text": "ASSET MANAGEMENT", "fontSize": 29, "align": "right", "baseline": "alphabetic", "color": "#111"},
                  "encoding": {"x": {"datum": 2285, "type": "quantitative"}, "y": {"datum": 138.5, "type": "quantitative"}}
                }
              ]
            }
          ]
        }
      ]
    }
  ]
}
